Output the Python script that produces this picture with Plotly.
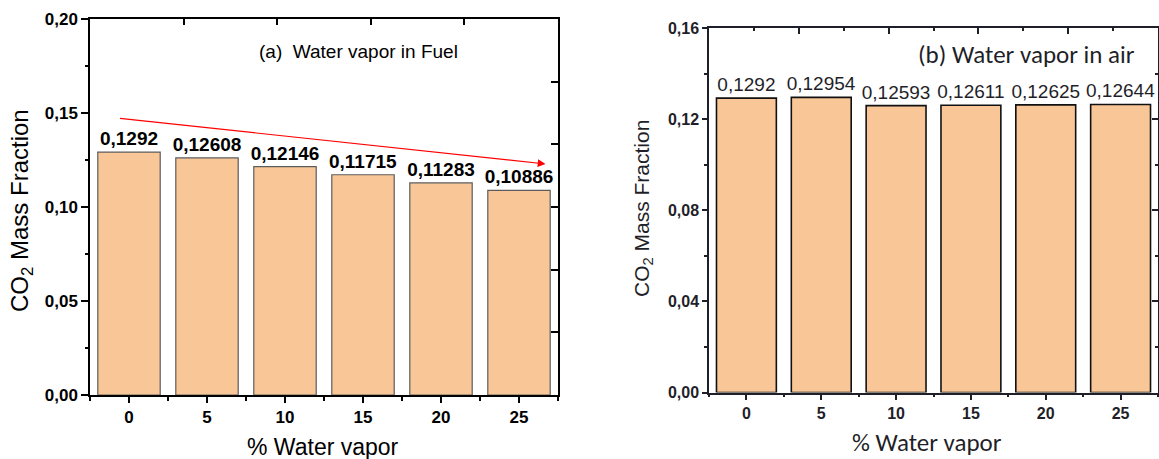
import plotly.graph_objects as go

# ---------------- data ----------------
water_vapor = [0, 5, 10, 15, 20, 25]
co2_fuel = [0.1292, 0.12608, 0.12146, 0.11715, 0.11283, 0.10886]
co2_air = [0.1292, 0.12954, 0.12593, 0.12611, 0.12625, 0.12644]
x_ticks = [0, 5, 10, 15, 20, 25]
x_minor = [-2.5, 2.5, 7.5, 12.5, 17.5, 22.5, 27.5]
y_ticks_a = [0.0, 0.05, 0.10, 0.15, 0.20]
y_minor_a = [0.025, 0.075, 0.125, 0.175]
y_ticks_b = [0.0, 0.04, 0.08, 0.12, 0.16]
y_minor_b = [0.02, 0.06, 0.10, 0.14]
trend_start = (-0.77, 0.1473)
trend_end = (26.7, 0.1229)

W, H = 1159, 459
FILL = "#F9C797"
DARK = "#1f1f29"


def lab(v):
    return f"{v}".replace(".", ",")


def fx(p):
    return p / W


def fy(p):
    return 1 - p / H


fig = go.Figure()

fig.add_trace(go.Bar(
    x=water_vapor, y=co2_fuel, width=4, xaxis="x", yaxis="y",
    marker=dict(color=FILL, line=dict(color="#5c5c5c", width=1.2)),
    text=[lab(v) for v in co2_fuel], textposition="outside", cliponaxis=False,
    constraintext="none",
    textfont=dict(family="Arial, Liberation Sans", size=19, color="black", weight="bold"),
    showlegend=False, hoverinfo="skip",
))
fig.add_trace(go.Bar(
    x=water_vapor, y=co2_air, width=4, xaxis="x2", yaxis="y2",
    marker=dict(color=FILL, line=dict(color="#111111", width=1.6)),
    text=[lab(v) for v in co2_air], textposition="outside", cliponaxis=False,
    constraintext="none",
    textfont=dict(family="Arial, Liberation Sans", size=19, color=DARK),
    showlegend=False, hoverinfo="skip",
))
# empty traces to anchor frame axes
fig.add_trace(go.Scatter(x=[None], y=[None], xaxis="x3", yaxis="y", showlegend=False, hoverinfo="skip"))
fig.add_trace(go.Scatter(x=[None], y=[None], xaxis="x", yaxis="y3", showlegend=False, hoverinfo="skip"))
fig.add_trace(go.Scatter(x=[None], y=[None], xaxis="x4", yaxis="y2", showlegend=False, hoverinfo="skip"))
fig.add_trace(go.Scatter(x=[None], y=[None], xaxis="x2", yaxis="y4", showlegend=False, hoverinfo="skip"))

tickfont_a = dict(family="Arial, Liberation Sans", size=17, color="black", weight="bold")
tickfont_b = dict(family="Arial, Liberation Sans", size=16, color=DARK, weight="bold")

common = dict(showgrid=False, zeroline=False, showline=True, linewidth=1.5, tickwidth=1.5,
              automargin=False, fixedrange=True)

dom_xa = [fx(90), fx(558)]
dom_ya = [fy(395), fy(19)]
dom_xb = [fx(709), fx(1158)]
dom_yb = [fy(392.5), fy(28)]

fig.update_layout(
    width=W, height=H, margin=dict(l=0, r=0, t=0, b=0, pad=0, autoexpand=False),
    paper_bgcolor="white", plot_bgcolor="white",
    separators=",.", barmode="overlay", showlegend=False,
    xaxis=dict(domain=dom_xa, anchor="y", range=[-2.5, 27.5], tickvals=x_ticks,
               ticks="outside", ticklen=6, tickcolor="black", linecolor="black",
               tickfont=tickfont_a,
               minor=dict(tickvals=x_minor, ticks="outside", ticklen=4, tickwidth=1.5,
                          tickcolor="black", showgrid=False), **common),
    yaxis=dict(domain=dom_ya, anchor="x", range=[0, 0.2], tickvals=y_ticks_a, tickformat=".2f",
               ticks="outside", ticklen=7, tickcolor="black", linecolor="black",
               tickfont=tickfont_a,
               minor=dict(tickvals=y_minor_a, ticks="outside", ticklen=3, tickwidth=1.5,
                          tickcolor="black", showgrid=False), **common),
    xaxis3=dict(overlaying="x", anchor="y", side="top", range=[0, 5], tickvals=[1, 2, 3, 4],
                ticks="inside", ticklen=6, tickcolor="black", linecolor="black",
                showticklabels=False, **common),
    yaxis3=dict(overlaying="y", anchor="x", side="right", range=[0, 6], tickvals=[1, 2, 3, 4, 5],
                ticks="inside", ticklen=7, tickcolor="black", linecolor="black",
                showticklabels=False, **common),
    xaxis2=dict(domain=dom_xb, anchor="y2", range=[-2.5, 27.5], tickvals=x_ticks,
                ticks="outside", ticklen=6, tickcolor=DARK, linecolor=DARK,
                tickfont=tickfont_b,
                minor=dict(tickvals=x_minor, ticks="outside", ticklen=3, tickwidth=1.5,
                           tickcolor=DARK, showgrid=False), **common),
    yaxis2=dict(domain=dom_yb, anchor="x2", range=[0, 0.16], tickvals=y_ticks_b, tickformat=".2f",
                ticks="outside", ticklen=5, tickcolor=DARK, linecolor=DARK,
                tickfont=tickfont_b,
                minor=dict(tickvals=y_minor_b, ticks="outside", ticklen=3, tickwidth=1.5,
                           tickcolor=DARK, showgrid=False), **common),
    xaxis4=dict(overlaying="x2", anchor="y2", side="top", range=[0, 10], tickvals=[2, 4, 6, 8],
                ticks="inside", ticklen=6, tickcolor=DARK, linecolor=DARK,
                showticklabels=False,
                minor=dict(tickvals=[1, 3, 5, 7, 9], ticks="inside", ticklen=3, tickwidth=1.5,
                           tickcolor=DARK, showgrid=False), **common),
    yaxis4=dict(overlaying="y2", anchor="x2", side="right", range=[0, 0.16], tickvals=y_ticks_b,
                ticks="inside", ticklen=6, tickcolor=DARK, linecolor=DARK,
                showticklabels=False,
                minor=dict(tickvals=y_minor_b, ticks="inside", ticklen=3, tickwidth=1.5,
                           tickcolor=DARK, showgrid=False), **common),
)

annotations = [
    # panel (a) titles
    dict(text="CO<sub>2</sub> Mass Fraction", x=fx(21), y=fy(211), textangle=-90,
         font=dict(family="Arial, Liberation Sans", size=24, color="black")),
    dict(text="% Water vapor", x=fx(323), y=fy(447),
         font=dict(family="Arial, Liberation Sans", size=23, color="black")),
    dict(text="(a)  Water vapor in Fuel", x=fx(358), y=fy(51),
         font=dict(family="Arial, Liberation Sans", size=19, color="black")),
    # panel (b) titles
    dict(text="CO<sub>2</sub> Mass Fraction", x=fx(643), y=fy(209), textangle=-90,
         font=dict(family="Arial, Liberation Sans", size=21, color=DARK)),
    dict(text="% Water vapor", x=fx(927), y=fy(442),
         font=dict(family="Carlito, Lato, Arial", size=25, color=DARK)),
    dict(text="(b) Water vapor in air", x=fx(1026), y=fy(55),
         font=dict(family="Carlito, Lato, Arial", size=25, color=DARK)),
]
for a in annotations:
    a.update(xref="paper", yref="paper", xanchor="center", yanchor="middle", showarrow=False)

annotations.append(dict(
    x=trend_end[0], y=trend_end[1], ax=trend_start[0], ay=trend_start[1],
    xref="x", yref="y", axref="x", ayref="y", text=" ", showarrow=True,
    arrowhead=2, arrowsize=1.3, arrowwidth=1.2, arrowcolor="red",
))
fig.update_layout(annotations=annotations)

fig.write_html("out.html")
